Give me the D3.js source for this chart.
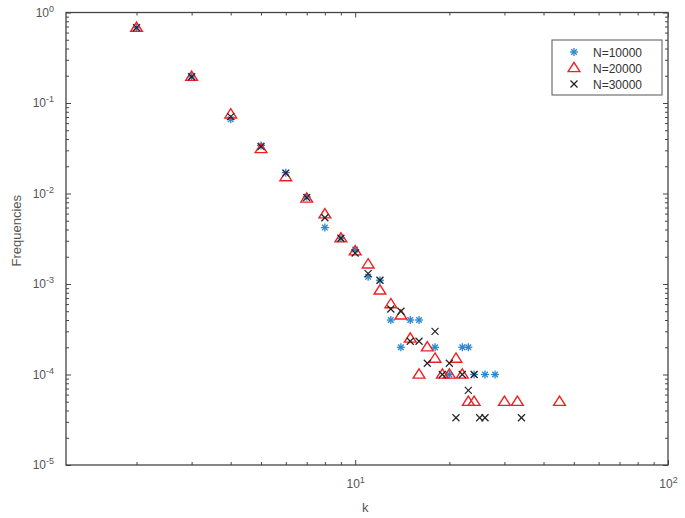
<!DOCTYPE html>
<meta charset="utf-8">
<html>
<head>
<style>
  body { margin: 0; background: #fff; }
  text { font-family: "Liberation Sans", Arial, sans-serif; }
  .axis path, .axis line { stroke: #444; }
  .axis text { fill: #555; font-size: 12px; }
</style>
<script src="https://d3js.org/d3.v7.min.js"></script>
</head>
<body>
<div id="chart"></div>
<script>
// data
var kStar = [2, 3, 4, 5, 6, 7, 8, 9, 10, 11, 12, 13, 14, 15, 16, 18, 20, 22, 23, 24, 26, 28];
var fStar = [0.68, 0.195, 0.066, 0.034, 0.017, 0.0092, 0.0042, 0.0032, 0.0024, 0.0012, 0.0011, 0.0004, 0.0002, 0.0004, 0.0004, 0.0002, 0.0001, 0.0002, 0.0002, 0.0001, 0.0001, 0.0001];

var kTri = [2, 3, 4, 5, 6, 7, 8, 9, 10, 11, 12, 13, 14, 15, 16, 17, 18, 19, 20, 21, 22, 23, 24, 30, 33, 45];
var fTri = [0.68, 0.195, 0.075, 0.031, 0.0152, 0.0088, 0.0059, 0.0032, 0.0023, 0.00165, 0.00085, 0.0006, 0.00045, 0.00025, 0.0001, 0.0002, 0.00015, 0.0001, 0.0001, 0.00015, 0.0001, 0.00005, 0.00005, 0.00005, 0.00005, 0.00005];

var kX = [2, 3, 4, 5, 6, 7, 8, 9, 10, 11, 12, 13, 14, 15, 16, 17, 18, 19, 20, 21, 22, 23, 24, 25, 26, 34];
var fX = [0.68, 0.195, 0.0706, 0.033, 0.0168, 0.009, 0.0054, 0.0032, 0.0022, 0.0013, 0.0011, 0.00053, 0.0005, 0.000233, 0.000233, 0.000133, 0.0003, 0.0001, 0.000133, 0.0000333, 0.0001, 0.0000667, 0.0001, 0.0000333, 0.0000333, 0.0000333];

var seriesNames = ["N=10000", "N=20000", "N=30000"];
var xMajor = [10, 100];
var yMajor = [1, 0.1, 0.01, 0.001, 0.0001, 0.00001];

var W = 685, H = 518;
var margin = {top: 12.5, right: 17, bottom: 53, left: 66};
var width = W - margin.left - margin.right,
    height = H - margin.top - margin.bottom;

var svg = d3.select("#chart").append("svg")
  .attr("width", W).attr("height", H);
var g = svg.append("g")
  .attr("transform", "translate(" + margin.left + "," + margin.top + ")");

var x = d3.scaleLog().domain([1.19, 100]).range([0, width]);
var y = d3.scaleLog().domain([1e-5, 1]).range([height, 0]);

var xMinor = [], yMinor = [];
[1, 10].forEach(function(b) { for (var i = 2; i <= 9; i++) if (b * i >= 1.19) xMinor.push(b * i); });
[1e-5, 1e-4, 1e-3, 1e-2, 1e-1].forEach(function(b) { for (var i = 2; i <= 9; i++) yMinor.push(b * i); });

function supLabels(sel, expOf) {
  sel.selectAll(".tick text").each(function(d) {
    var t = d3.select(this).text(null);
    t.append("tspan").text("10");
    t.append("tspan").attr("dy", "-0.55em").style("font-size", "9px").text(expOf(d));
  });
}

// minor ticks on all sides
g.append("g").attr("class", "axis").attr("transform", "translate(0," + height + ")")
  .call(d3.axisBottom(x).tickValues(xMinor).tickSize(-3).tickFormat(""));
g.append("g").attr("class", "axis")
  .call(d3.axisTop(x).tickValues(xMinor).tickSize(-3).tickFormat(""));
g.append("g").attr("class", "axis")
  .call(d3.axisLeft(y).tickValues(yMinor).tickSize(-3).tickFormat(""));
g.append("g").attr("class", "axis").attr("transform", "translate(" + width + ",0)")
  .call(d3.axisRight(y).tickValues(yMinor).tickSize(-3).tickFormat(""));

// major ticks with labels
var xb = g.append("g").attr("class", "axis").attr("transform", "translate(0," + height + ")")
  .call(d3.axisBottom(x).tickValues(xMajor).tickSize(-5).tickPadding(14).tickFormat(String));
supLabels(xb, function(d) { return Math.round(Math.log10(d)); });
g.append("g").attr("class", "axis")
  .call(d3.axisTop(x).tickValues(xMajor).tickSize(-5).tickFormat(""));
var yl = g.append("g").attr("class", "axis")
  .call(d3.axisLeft(y).tickValues(yMajor).tickSize(-5).tickPadding(12).tickFormat(String));
supLabels(yl, function(d) { return Math.round(Math.log10(d)); });
g.append("g").attr("class", "axis").attr("transform", "translate(" + width + ",0)")
  .call(d3.axisRight(y).tickValues(yMajor).tickSize(-5).tickFormat(""));

g.selectAll(".axis path").remove();
g.append("rect").attr("width", width).attr("height", height)
  .attr("fill", "none").attr("stroke", "#444").attr("stroke-width", 1.3);

// axis titles
svg.append("text").attr("x", margin.left + x(10) + 10).attr("y", 512)
  .attr("text-anchor", "middle").style("font-size", "13px").attr("fill", "#555").text("k");
svg.append("text").attr("transform", "translate(21," + (margin.top + height / 2 - 8) + ") rotate(-90)")
  .attr("text-anchor", "middle").style("font-size", "13px").attr("fill", "#555").text("Frequencies");

var blue = "#2a86d1", red = "#f02020", black = "#222";

function drawStar(sel, r) {
  [[-r, 0, r, 0], [0, -r, 0, r], [-r * 0.7, -r * 0.7, r * 0.7, r * 0.7], [-r * 0.7, r * 0.7, r * 0.7, -r * 0.7]]
    .forEach(function(l) {
      sel.append("line").attr("x1", l[0]).attr("y1", l[1]).attr("x2", l[2]).attr("y2", l[3])
        .attr("stroke", blue).attr("stroke-width", 1.3);
    });
}
function drawTri(sel, r) {
  sel.append("path").attr("d", "M0," + (-r) + "L" + (r * 1.05) + "," + (r * 0.65) + "L" + (-r * 1.05) + "," + (r * 0.65) + "Z")
    .attr("fill", "none").attr("stroke", red).attr("stroke-width", 1.4);
}
function drawX(sel, r) {
  [[-r, -r, r, r], [-r, r, r, -r]].forEach(function(l) {
    sel.append("line").attr("x1", l[0]).attr("y1", l[1]).attr("x2", l[2]).attr("y2", l[3])
      .attr("stroke", black).attr("stroke-width", 1.2);
  });
}

function plot(ks, fs, fn, r) {
  g.selectAll(null).data(ks.map(function(k, i) { return [k, fs[i]]; }))
    .enter().append("g")
    .attr("transform", function(d) { return "translate(" + x(d[0]) + "," + y(d[1]) + ")"; })
    .each(function() { fn(d3.select(this), r); });
}
plot(kStar, fStar, drawStar, 4);
plot(kTri, fTri, drawTri, 5.6);
plot(kX, fX, drawX, 3.5);

// legend
var lg = svg.append("g").attr("transform", "translate(552,40)");
lg.append("rect").attr("width", 110).attr("height", 55).attr("fill", "#fff")
  .attr("stroke", "#555").attr("stroke-width", 1);
var fns = [drawStar, drawTri, drawX], rs = [4, 5.6, 3.5];
seriesNames.forEach(function(name, i) {
  var row = lg.append("g").attr("transform", "translate(22," + (12 + i * 16) + ")");
  fns[i](row, rs[i]);
  lg.append("text").attr("x", 41).attr("y", 12 + i * 16 + 4.5)
    .style("font-size", "12px").attr("fill", "#333").text(name);
});
</script>
</body>
</html>
